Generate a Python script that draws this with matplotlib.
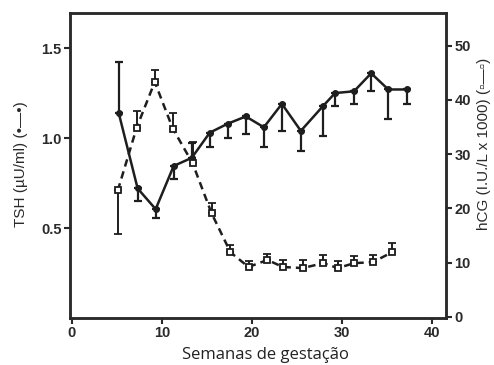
import matplotlib
matplotlib.use("Agg")
import matplotlib.pyplot as plt
import numpy as np

# TSH (left axis)
tsh_weeks = [5.2, 7.3, 9.3, 11.3, 13.3, 15.3, 17.3, 19.3, 21.3, 23.3, 25.4, 27.9, 29.2, 31.3, 33.2, 35.1, 37.2]
tsh_vals = [1.14, 0.72, 0.605, 0.845, 0.89, 1.03, 1.08, 1.12, 1.06, 1.19, 1.04, 1.18, 1.25, 1.26, 1.36, 1.27, 1.27]
tsh_err_low = [0, 0.07, 0.05, 0.075, 0, 0.08, 0.08, 0.10, 0.11, 0.15, 0.11, 0.17, 0.07, 0.07, 0.10, 0.165, 0.08]
tsh_err_high = [0.28, 0, 0, 0, 0.08, 0, 0, 0, 0, 0, 0, 0, 0, 0, 0, 0, 0]

# hCG (right axis)
hcg_weeks = [5.1, 7.2, 9.2, 11.2, 13.4, 15.5, 17.6, 19.6, 21.7, 23.4, 25.6, 27.9, 29.5, 31.3, 33.4, 35.5]
hcg_vals = [23.3, 34.9, 43.3, 34.7, 28.3, 19.1, 11.9, 9.2, 10.5, 9.2, 9.0, 9.9, 9.0, 9.9, 10.1, 11.9]
hcg_err_low = [8.1, 0, 0, 0, 0, 0, 0, 0, 0, 0, 0, 0, 0, 0, 0, 0]
hcg_err_high = [0, 3.1, 2.2, 2.9, 4.0, 1.8, 1.3, 1.1, 1.1, 1.3, 1.5, 1.5, 1.3, 1.3, 1.3, 1.7]

x_ticks = [0, 10, 20, 30, 40]
left_ticks = [0.5, 1.0, 1.5]
right_ticks = [0, 10, 20, 30, 40, 50]

W, H = 494, 365
fig = plt.figure(figsize=(W / 100, H / 100), dpi=100)
ax = fig.add_axes([70 / W, 1 - 318 / H, (446 - 70) / W, (318 - 13) / H])
ax2 = ax.twinx()

ink = "#1e1e1e"
ax.errorbar(tsh_weeks, tsh_vals, yerr=[tsh_err_low, tsh_err_high], color=ink,
            lw=1.8, marker="o", ms=4, mfc=ink, mec=ink, capsize=3.2,
            elinewidth=1.6, capthick=1.6, zorder=3)
ax2.errorbar(hcg_weeks, hcg_vals, yerr=[hcg_err_low, hcg_err_high], color=ink,
             lw=1.8, ls=(0, (3, 2)), marker="s", ms=4.5, mfc="white", mec=ink,
             mew=1.3, capsize=3.2, elinewidth=1.4, capthick=1.4, zorder=3)

ax.set_xlim(-0.2, 41.5)
ax.set_ylim(0, 1.695)
ax2.set_ylim(-0.2, 56)

tick_font = dict(fontsize=10.5, fontweight="bold", color="#2a2a2a", family="Liberation Sans")
ax.set_xticks(x_ticks)
ax.set_xticklabels([str(t) for t in x_ticks], **tick_font)
ax.set_yticks(left_ticks)
ax.set_yticklabels(["0.5", "1.0", "1.5"], **tick_font)
ax2.set_yticks(right_ticks)
ax2.set_yticklabels([str(t) for t in right_ticks], **tick_font)

for a in (ax, ax2):
    for s in a.spines.values():
        s.set_linewidth(1.8)
        s.set_color("#2a2a2a")
    a.tick_params(direction="out", length=4, width=1.5, color="#2a2a2a", pad=2)

ax.set_ylabel("TSH (µU/ml) (•—•)", fontsize=11, color="#2a2a2a",
              family=["Liberation Sans", "DejaVu Sans"])
ax.yaxis.set_label_coords(-0.112, 0.505)
ax2.set_ylabel("hCG (I.U./L x 1000) (▫—▫)", fontsize=11, color="#2a2a2a",
               family=["Liberation Sans", "DejaVu Sans"])
ax2.yaxis.set_label_coords(1.082, 0.57)
ax.set_xlabel("Semanas de gestação", fontsize=12, color="#222222",
              family="Open Sans")
ax.xaxis.set_label_coords(0.519, -0.095)

fig.savefig("out.png", dpi=100)
